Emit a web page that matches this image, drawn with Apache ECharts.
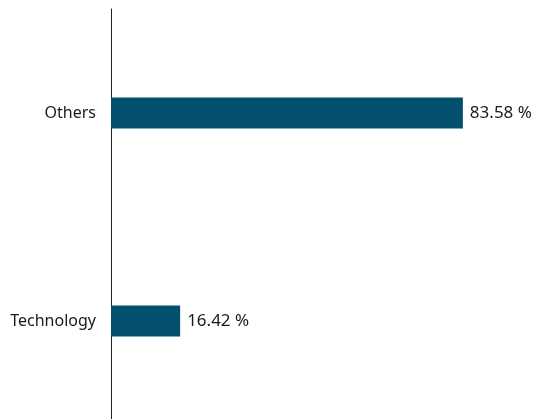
<!DOCTYPE html>
<html>
<head>
<meta charset="utf-8">
<script src="https://cdn.jsdelivr.net/npm/echarts@6/dist/echarts.min.js"></script>
<style>
  html, body { margin: 0; padding: 0; background: #fff; }
  #chart { width: 535px; height: 419px; }
</style>
</head>
<body>
<div id="chart"></div>
<script>
  // categories listed bottom to top
  var categories = ['Technology', 'Others'];
  var values = [16.42, 83.58];

  var myChart = echarts.init(document.getElementById('chart'));
  var option = {
    animation: false,
    grid: {
      left: 111,
      width: 421,
      top: 9,
      height: 416,
      containLabel: false,
      outerBoundsMode: 'none'
    },
    xAxis: {
      type: 'value',
      min: 0,
      max: 100,
      show: false
    },
    yAxis: {
      type: 'category',
      data: categories,
      axisLine: { show: true, lineStyle: { color: '#222', width: 1 } },
      axisTick: { show: false },
      axisLabel: {
        margin: 15,
        color: '#1a1a1a',
        fontFamily: 'Noto Sans',
        fontSize: 16
      }
    },
    series: [{
      type: 'bar',
      data: values,
      barWidth: 31,
      itemStyle: { color: '#02506e' },
      label: {
        show: true,
        position: 'right',
        distance: 7,
        color: '#1a1a1a',
        fontFamily: 'Noto Sans',
        fontSize: 17,
        formatter: function (p) { return p.value.toFixed(2) + ' %'; }
      }
    }]
  };
  myChart.setOption(option);
</script>
</body>
</html>
